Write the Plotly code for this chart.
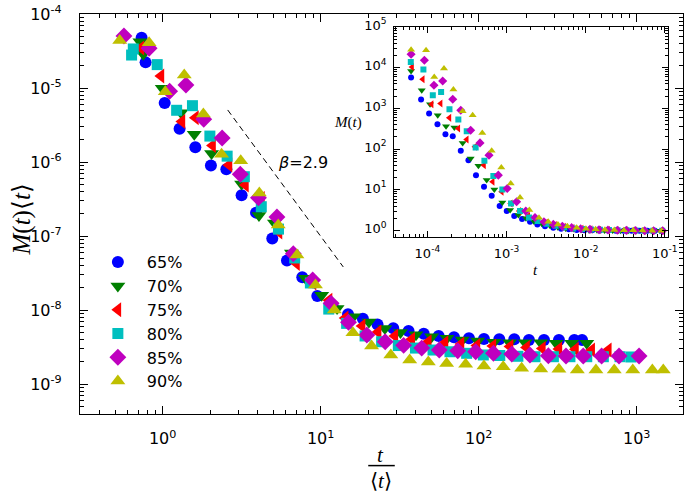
import math
import plotly.graph_objects as go

labels = ["65%", "70%", "75%", "80%", "85%", "90%"]
colors = ["#0000ff", "#007f00", "#ff0000", "#00bfbf", "#bf00bf", "#bfbf00"]
symbols = ["circle", "triangle-down", "triangle-left", "square", "diamond", "triangle-up"]

# ---- main panel: t/<t> vs M(t)<t> ----
x65 = [0.736, 0.780, 1.03, 1.28, 1.61, 2.02, 2.53, 3.16, 3.90, 4.94, 6.12, 7.65, 9.52, 11.9, 14.9, 18.5,
       22.9, 28.8, 36.0, 44.9, 55.8, 69.8, 86.8, 108, 135, 168, 208, 259, 322, 403, 451]
y65 = [4.79e-5, 2.22e-5, 6.27e-6, 2.82e-6, 1.58e-6, 9.0e-7, 7.96e-7, 3.55e-7, 2.07e-7, 9.25e-8, 4.67e-8,
       2.77e-8, 1.55e-8, 1.13e-8, 8.77e-9, 7.6e-9, 6.37e-9, 5.66e-9, 5.20e-9, 4.79e-9, 4.46e-9, 4.28e-9,
       4.15e-9, 4.06e-9, 4.02e-9, 4.02e-9, 3.94e-9, 3.94e-9, 3.94e-9, 3.94e-9, 3.94e-9]

x70 = [0.718, 0.754, 0.994, 1.306, 1.585, 2.04, 3.16, 4.07, 5.10, 6.53, 8.01, 10.15, 12.7, 16.1, 20.2, 25.5,
       32.0, 40.1, 50.4, 63.0, 78.7, 98.6, 125, 157, 197, 247, 309, 388, 483]
y70 = [4.22e-5, 2.85e-5, 9.9e-6, 4.64e-6, 2.38e-6, 1.30e-6, 5.05e-7, 1.89e-7, 1.50e-7, 5.89e-8, 2.68e-8,
       1.58e-8, 1.05e-8, 8.11e-9, 6.89e-9, 5.62e-9, 4.97e-9, 4.64e-9, 4.36e-9, 4.15e-9, 3.94e-9, 3.81e-9,
       3.66e-9, 3.62e-9, 3.62e-9, 3.62e-9, 3.55e-9, 3.55e-9, 3.55e-9]

x75 = [0.729, 0.975, 1.325, 1.613, 2.07, 2.63, 3.34, 4.22, 5.45, 7.03, 8.95, 11.3, 14.3, 18.3, 23.1, 29.5,
       37.7, 48.0, 61.2, 77.3, 97.5, 123, 158, 201, 253, 322, 410, 519, 661]
y75 = [3.47e-5, 1.45e-5, 3.52e-6, 3.97e-6, 1.67e-6, 9.1e-7, 4.89e-7, 3.21e-7, 1.13e-7, 4.27e-8, 2.32e-8,
       1.36e-8, 7.8e-9, 6.08e-9, 5.05e-9, 4.46e-9, 4.02e-9, 3.73e-9, 3.62e-9, 3.47e-9, 3.31e-9, 3.26e-9,
       3.21e-9, 3.11e-9, 3.03e-9, 2.97e-9, 2.94e-9, 2.88e-9, 2.88e-9]

x80 = [0.636, 0.652, 0.924, 1.226, 1.544, 1.99, 2.56, 3.29, 4.21, 5.41, 6.85, 8.61, 11.25, 14.6, 19.1, 24.3,
       31.0, 39.8, 51.4, 65.8, 83.9, 107, 136, 177, 227, 297, 378, 483, 615, 784, 920]
y80 = [2.79e-5, 3.37e-5, 2.07e-5, 5.0e-6, 5.77e-6, 2.24e-6, 1.20e-6, 6.33e-7, 2.49e-7, 1.24e-7, 5.05e-8,
       2.32e-8, 1.03e-8, 6.6e-9, 4.46e-9, 3.73e-9, 3.31e-9, 3.06e-9, 2.88e-9, 2.73e-9, 2.60e-9, 2.47e-9,
       2.43e-9, 2.37e-9, 2.34e-9, 2.34e-9, 2.34e-9, 2.34e-9, 2.34e-9, 2.34e-9, 2.32e-9]

x85 = [0.569, 0.821, 1.107, 1.404, 1.82, 2.38, 3.10, 4.04, 5.29, 6.71, 8.90, 11.65, 15.0, 19.6, 25.6, 33.5,
       43.6, 56.3, 73.7, 95.7, 124, 162, 211, 276, 357, 459, 600, 773, 1035]
y85 = [5.05e-5, 3.44e-5, 9.05e-6, 1.10e-5, 3.79e-6, 2.11e-6, 6.84e-7, 3.28e-7, 1.81e-7, 5.76e-8, 2.54e-8,
       1.23e-8, 6.84e-9, 4.59e-9, 3.73e-9, 3.33e-9, 3.06e-9, 2.88e-9, 2.82e-9, 2.73e-9, 2.60e-9, 2.54e-9,
       2.47e-9, 2.41e-9, 2.39e-9, 2.39e-9, 2.39e-9, 2.39e-9, 2.39e-9]

x90 = [0.535, 0.821, 1.039, 1.37, 1.81, 2.36, 3.12, 4.09, 5.39, 7.08, 9.27, 12.2, 16.0, 21.0, 27.8, 36.6,
       48.0, 62.7, 82.7, 108, 143, 187, 247, 322, 421, 552, 721, 944, 1256, 1473]
y90 = [4.38e-5, 4.08e-5, 8.91e-6, 1.50e-5, 4.46e-6, 1.27e-6, 1.04e-6, 3.81e-7, 1.41e-7, 5.53e-8, 2.18e-8,
       1.0e-8, 4.93e-9, 3.26e-9, 2.47e-9, 2.11e-9, 1.98e-9, 1.90e-9, 1.85e-9, 1.75e-9, 1.71e-9, 1.63e-9,
       1.60e-9, 1.58e-9, 1.55e-9, 1.55e-9, 1.55e-9, 1.55e-9, 1.55e-9, 1.55e-9]

# ---- inset: t vs M(t) ----
t65 = [6.22e-5, 8.32e-5, 1.05e-4, 1.34e-4, 1.69e-4, 2.09e-4, 2.64e-4, 3.30e-4, 4.11e-4, 5.19e-4, 6.49e-4,
       8.18e-4, 1.005e-3, 1.25e-3, 1.57e-3, 1.98e-3, 2.45e-3, 3.06e-3, 3.90e-3, 4.88e-3, 6.10e-3, 7.69e-3,
       9.6e-3, 0.0121, 0.0151, 0.0191, 0.0240, 0.0302, 0.0380, 0.0479, 0.0603, 0.075, 0.093]
m65 = [5730, 1656, 752, 411, 234, 209, 91.4, 54.0, 23.1, 12.0, 7.21, 4.03, 3.03, 2.29, 1.93, 1.66, 1.43,
       1.28, 1.19, 1.12, 1.08, 1.04, 1.03, 1.02, 1.01, 1.01, 1.0, 1.0, 1.0, 1.0, 1.0, 1.0, 1.0]

t70 = [6.22e-5, 8.48e-5, 1.08e-4, 1.35e-4, 1.72e-4, 2.19e-4, 2.79e-4, 3.52e-4, 4.41e-4, 5.61e-4, 7.01e-4,
       8.85e-4, 1.11e-3, 1.41e-3, 1.76e-3, 2.22e-3, 2.78e-3, 3.54e-3, 4.43e-3, 5.58e-3, 6.97e-3, 8.79e-3,
       0.0110, 0.0139, 0.0173, 0.0219, 0.0276, 0.0345, 0.0436, 0.0543, 0.0687, 0.0867]
m70 = [8350, 2805, 1273, 684, 367, 341, 143, 59.3, 39.2, 17.5, 10.3, 4.95, 3.21, 2.42, 2.01, 1.69, 1.48,
       1.33, 1.21, 1.14, 1.10, 1.06, 1.03, 1.02, 1.01, 1.01, 1.0, 1.0, 1.0, 1.0, 1.0, 1.0]

t75 = [6.40e-5, 8.73e-5, 1.13e-4, 1.47e-4, 1.90e-4, 2.46e-4, 3.14e-4, 4.0e-4, 5.19e-4, 6.68e-4, 8.69e-4,
       1.13e-3, 1.45e-3, 1.88e-3, 2.45e-3, 3.15e-3, 4.09e-3, 5.32e-3, 6.84e-3, 8.89e-3, 0.01153, 0.01486,
       0.01928, 0.02506, 0.0322, 0.0419, 0.0543, 0.070, 0.091]
m75 = [10470, 5210, 1273, 1320, 589, 322, 173, 115, 40.7, 15.9, 9.04, 4.68, 3.03, 2.29, 1.83, 1.57, 1.38,
       1.25, 1.16, 1.12, 1.08, 1.06, 1.04, 1.03, 1.02, 1.01, 1.0, 1.0, 1.0]

t80 = [6.17e-5, 8.9e-5, 1.17e-4, 1.49e-4, 1.90e-4, 2.46e-4, 3.14e-4, 4.07e-4, 5.25e-4, 6.81e-4, 8.85e-4,
       1.14e-3, 1.48e-3, 1.92e-3, 2.47e-3, 3.21e-3, 4.17e-3, 5.37e-3, 6.97e-3, 9.06e-3, 0.01164, 0.01514,
       0.01968, 0.0253, 0.0329, 0.0427, 0.0550, 0.0713, 0.0927]
m80 = [13870, 9000, 2113, 2553, 959, 535, 277, 110, 52.0, 21.9, 10.3, 4.68, 3.03, 2.12, 1.73, 1.48, 1.33,
       1.21, 1.14, 1.10, 1.07, 1.05, 1.04, 1.03, 1.02, 1.01, 1.0, 1.0, 1.0]

t85 = [6.22e-5, 9.16e-5, 1.21e-4, 1.56e-4, 2.09e-4, 2.64e-4, 3.52e-4, 4.62e-4, 6.0e-4, 7.87e-4, 1.02e-3,
       1.34e-3, 1.75e-3, 2.29e-3, 2.97e-3, 3.90e-3, 5.07e-3, 6.64e-3, 8.63e-3, 0.01132, 0.01472, 0.0191,
       0.0251, 0.0326, 0.0423, 0.0555, 0.0719, 0.0935]
m85 = [21380, 15240, 3718, 4745, 1687, 907, 293, 143, 71.6, 23.1, 10.9, 5.14, 3.03, 2.12, 1.66, 1.43, 1.28,
       1.19, 1.12, 1.08, 1.06, 1.04, 1.03, 1.02, 1.01, 1.0, 1.0, 1.0]

t90 = [6.22e-5, 9.62e-5, 1.22e-4, 1.62e-4, 2.13e-4, 2.79e-4, 3.73e-4, 4.94e-4, 6.49e-4, 8.59e-4, 1.13e-3,
       1.48e-3, 1.94e-3, 2.57e-3, 3.37e-3, 4.46e-3, 5.86e-3, 7.69e-3, 0.01007, 0.01334, 0.0175, 0.0230,
       0.0304, 0.0398, 0.0522, 0.0692, 0.091]
m90 = [27800, 26800, 5950, 9530, 2910, 857, 684, 252, 91.4, 35.6, 14.5, 6.56, 3.21, 2.08, 1.66, 1.43, 1.28,
       1.19, 1.12, 1.08, 1.06, 1.04, 1.03, 1.02, 1.01, 1.0, 1.0]

# guide line with slope beta
beta = 2.9
beta_x = [2.58, 13.9]
beta_y0 = 5.05e-6

main_x = [x65, x70, x75, x80, x85, x90]
main_y = [y65, y70, y75, y80, y85, y90]
ins_t = [t65, t70, t75, t80, t85, t90]
ins_m = [m65, m70, m75, m80, m85, m90]
main_sizes = [12, 13, 13, 11, 13, 13]
ins_sizes = [6, 7, 7, 6, 7, 7]

fig = go.Figure()
for lab, col, sym, xs, ys, sz in zip(labels, colors, symbols, main_x, main_y, main_sizes):
    fig.add_trace(go.Scatter(x=xs, y=ys, mode="markers", name=lab,
                             marker=dict(color=col, symbol=sym, size=sz, line=dict(width=0)),
                             xaxis="x", yaxis="y"))

beta_y = [beta_y0 * (v / beta_x[0]) ** (-beta) for v in beta_x]
fig.add_trace(go.Scatter(x=beta_x, y=beta_y, mode="lines", showlegend=False,
                         line=dict(color="black", width=1, dash="6px,4px"), xaxis="x", yaxis="y"))

for lab, col, sym, xs, ys, sz in zip(labels, colors, symbols, ins_t, ins_m, ins_sizes):
    fig.add_trace(go.Scatter(x=xs, y=ys, mode="markers", name=lab, showlegend=False,
                             marker=dict(color=col, symbol=sym, size=sz, line=dict(width=0)),
                             xaxis="x2", yaxis="y2"))


def minor_vals(lo, hi):
    return [m * 10.0 ** e for e in range(lo, hi + 1) for m in range(2, 10)]


def sup_labels(exps):
    return ["10<sup>%d</sup>" % e for e in exps]


tickfont = dict(family="DejaVu Sans", size=16, color="black")
insfont = dict(family="DejaVu Sans", size=13, color="black")

common = dict(ticks="inside", tickwidth=1, tickcolor="black", mirror="allticks", showline=True,
              linecolor="black", showgrid=False, zeroline=False, automargin=False)

fig.update_layout(
    width=685, height=497,
    margin=dict(l=80, r=2, t=14, b=83, autoexpand=False),
    paper_bgcolor="white", plot_bgcolor="white",
    showlegend=True,
    legend=dict(x=0.0147, y=0.422, xanchor="left", yanchor="top", bgcolor="rgba(0,0,0,0)",
                font=dict(family="DejaVu Sans", size=16, color="black"), itemsizing="trace",
                itemwidth=48, tracegroupgap=0),
    xaxis=dict(type="log", range=[-0.523, 3.293], domain=[0, 1], anchor="y",
               tickvals=[1, 10, 100, 1000], ticktext=sup_labels([0, 1, 2, 3]),
               ticklen=8, linewidth=1.2, tickfont=tickfont, ticklabelstandoff=10,
               minor=dict(ticks="inside", ticklen=4, tickwidth=1, tickcolor="black",
                          tickvals=minor_vals(-1, 3), showgrid=False), **common),
    yaxis=dict(type="log", range=[-9.405, -4.0], domain=[0, 1], anchor="x",
               tickvals=[1e-9, 1e-8, 1e-7, 1e-6, 1e-5, 1e-4], ticktext=sup_labels([-9, -8, -7, -6, -5, -4]),
               ticklen=8, linewidth=1.2, tickfont=tickfont, ticklabelstandoff=14,
               minor=dict(ticks="inside", ticklen=4, tickwidth=1, tickcolor="black",
                          tickvals=minor_vals(-10, -5), showgrid=False), **common),
    xaxis2=dict(type="log", range=[-4.42, -0.961], domain=[0.521, 0.975], anchor="y2",
                tickvals=[1e-4, 1e-3, 1e-2, 1e-1], ticktext=sup_labels([-4, -3, -2, -1]),
                ticklen=6, linewidth=1, tickfont=insfont, ticklabelstandoff=4,
                minor=dict(ticks="inside", ticklen=3, tickwidth=1, tickcolor="black",
                           tickvals=minor_vals(-5, -1), showgrid=False), **common),
    yaxis2=dict(type="log", range=[-0.154, 5.0], domain=[0.4425, 0.9675], anchor="x2",
                tickvals=[1, 10, 100, 1e3, 1e4, 1e5], ticktext=sup_labels([0, 1, 2, 3, 4, 5]),
                ticklen=6, linewidth=1, tickfont=insfont, ticklabelstandoff=4, ticklabelshift=-2,
                minor=dict(ticks="inside", ticklen=3, tickwidth=1, tickcolor="black",
                           tickvals=minor_vals(0, 4), showgrid=False), **common),
)

serif = "Liberation Serif"
annos = [
    dict(text="<i>M</i>(<i>t</i>)⟨<i>t</i>⟩", x=-0.097, y=0.485, xref="paper", yref="paper",
         xanchor="center", yanchor="middle",
         textangle=-90, showarrow=False, font=dict(family=serif, size=25, color="black")),
    dict(text="<i>t</i>", x=0.499, y=-0.1025, xref="paper", yref="paper", showarrow=False,
         xanchor="center", yanchor="middle", font=dict(family=serif, size=21, color="black")),
    dict(text="⟨<i>t</i>⟩", x=0.499, y=-0.168, xref="paper", yref="paper", showarrow=False,
         xanchor="center", yanchor="middle", font=dict(family=serif, size=21, color="black")),
    dict(text="<i>β</i>=2.9", x=math.log10(7.73), y=math.log10(9.7e-7), xref="x", yref="y",
         xanchor="center", yanchor="middle",
         showarrow=False, font=dict(family="DejaVu Sans", size=16, color="black")),
    dict(text="<i>M</i>(<i>t</i>)", x=0.445, y=0.7275, xref="paper", yref="paper", showarrow=False,
         xanchor="center", yanchor="middle", font=dict(family=serif, size=15, color="black")),
    dict(text="<i>t</i>", x=0.7546, y=0.36, xref="paper", yref="paper", showarrow=False,
         xanchor="center", yanchor="middle", font=dict(family=serif, size=15, color="black")),
]
fig.update_layout(annotations=annos)
fig.add_shape(type="line", xref="paper", yref="paper", x0=0.478, x1=0.522, y0=-0.129, y1=-0.129,
              line=dict(color="black", width=1.5))

fig.write_html("out.html", config={"displayModeBar": False},
               post_script="document.body.style.margin='0';document.body.style.padding='0';")
